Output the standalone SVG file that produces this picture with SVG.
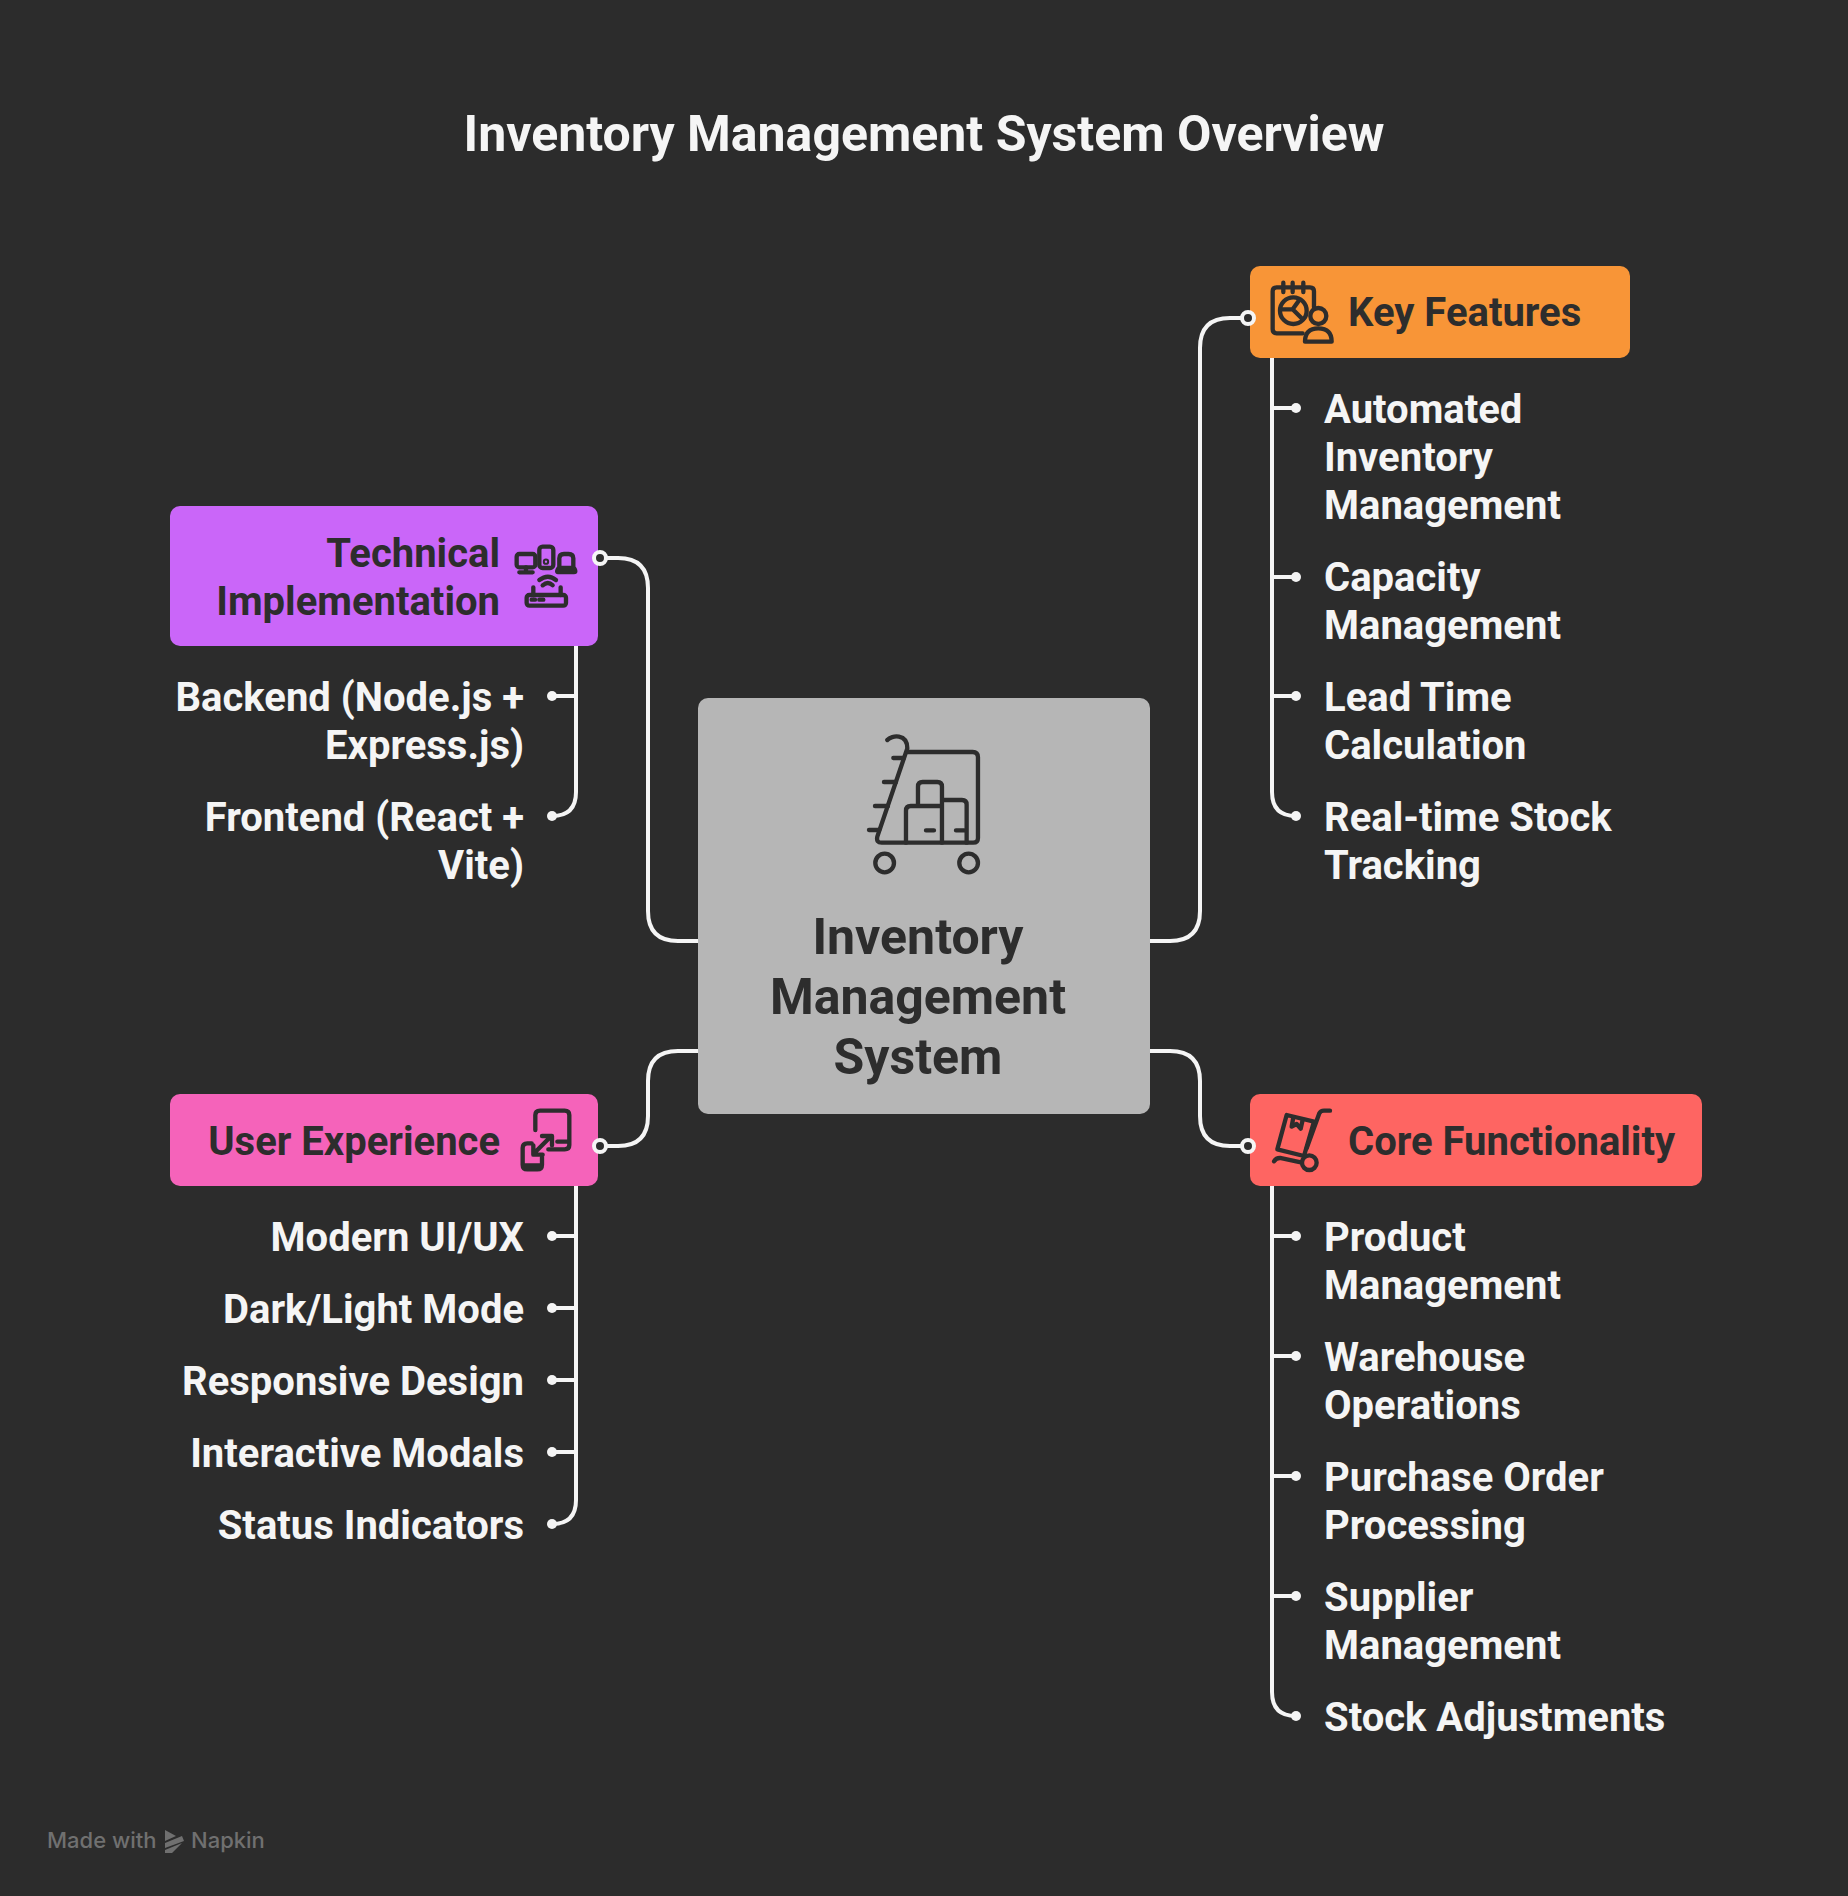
<svg xmlns="http://www.w3.org/2000/svg" width="1848" height="1896" viewBox="0 0 1848 1896">
<style>
text{font-family:Roboto,"Liberation Sans",sans-serif;font-weight:700}
.t{font-size:40px;fill:#f5f5f5}
.r{text-anchor:end}
.l{font-size:40px;fill:#2d2d2d}
.c{font-size:50px;fill:#2d2d2d;text-anchor:middle}
.w{fill:none;stroke:#f5f5f5;stroke-width:4;stroke-linecap:round}
.d{fill:#f5f5f5}
.ring{fill:#2d2d2d;stroke:#f5f5f5;stroke-width:4}
.ic{fill:none;stroke:#2d2d2d;stroke-width:13;stroke-linecap:round;stroke-linejoin:round}
.wm{font-family:Inter,sans-serif;font-weight:500;font-size:22px}
</style>
<rect id="background" width="1848" height="1896" fill="#2c2c2c"/>
<text id="title" x="924" y="150.5" font-size="50" fill="#f5f5f5" text-anchor="middle">Inventory Management System Overview</text>
<g id="connectors">
<path class="w" d="M698 941H678Q648 941 648 911V588Q648 558 618 558H600"/>
<path class="w" d="M1150 941H1170Q1200 941 1200 911V348Q1200 318 1230 318H1248"/>
<path class="w" d="M698 1051H678Q648 1051 648 1081V1116Q648 1146 618 1146H600"/>
<path class="w" d="M1150 1051H1170Q1200 1051 1200 1081V1116Q1200 1146 1230 1146H1248"/>
<path class="w" d="M1272 358V792Q1272 816 1296 816M1272 408H1296M1272 577H1296M1272 696H1296"/>
<path class="w" d="M1272 1186V1692Q1272 1716 1296 1716M1272 1236H1296M1272 1356H1296M1272 1476H1296M1272 1596H1296"/>
<path class="w" d="M576 646V792Q576 816 552 816M576 696H552"/>
<path class="w" d="M576 1186V1500Q576 1524 552 1524M576 1236H552M576 1308H552M576 1380H552M576 1452H552"/>
<g class="d">
<circle cx="1296" cy="408" r="5"/><circle cx="1296" cy="577" r="5"/><circle cx="1296" cy="696" r="5"/><circle cx="1296" cy="816" r="5"/>
<circle cx="1296" cy="1236" r="5"/><circle cx="1296" cy="1356" r="5"/><circle cx="1296" cy="1476" r="5"/><circle cx="1296" cy="1596" r="5"/><circle cx="1296" cy="1716" r="5"/>
<circle cx="552" cy="696" r="5"/><circle cx="552" cy="816" r="5"/>
<circle cx="552" cy="1236" r="5"/><circle cx="552" cy="1308" r="5"/><circle cx="552" cy="1380" r="5"/><circle cx="552" cy="1452" r="5"/><circle cx="552" cy="1524" r="5"/>
</g>
</g>
<g id="center-node">
<rect x="698" y="698" width="452" height="416" rx="10" fill="#b6b6b6"/>
<g class="ic" transform="translate(680 680) scale(.3333)">
<path d="M622 180C635 165 682 160 682 205L592 470Q588 488 605 488H880Q894 488 894 474V232Q894 216 878 216H682"/>
<path d="M640 234H672M612 306H648M585 378H624M567 450H598"/>
<path d="M678 488V392Q678 378 692 378H786V488M714 378V320Q714 306 728 306H772Q786 306 786 320V378M786 360H846Q860 360 860 374V488M738 451H762M828 451H852"/>
<circle cx="614" cy="549" r="28"/><circle cx="866" cy="549" r="28"/>
</g>
<text class="c" x="918" y="954">Inventory</text>
<text class="c" x="918" y="1014">Management</text>
<text class="c" x="918" y="1074">System</text>
</g>
<g id="key-features">
<rect x="1250" y="266" width="380" height="92" rx="10" fill="#f89537"/>
<g class="ic" transform="translate(1180 250) scale(.3333)">
<path d="M368 250H290Q278 250 278 238V124Q278 112 290 112H390Q402 112 402 124V172M310 98V126M338 98V126M370 98V126"/>
<circle cx="340" cy="182" r="40"/><path d="M302 178H338L358 150M338 178L368 208"/>
<circle cx="415" cy="198" r="24"/><path d="M375 275Q375 235 415 235Q455 235 455 275Z"/>
</g>
<text class="l" x="1348" y="326">Key Features</text>
<circle class="ring" cx="1248" cy="318" r="6"/>
</g>
<g id="key-features-items" transform="translate(0 .5)">
<text class="t" x="1324" y="422">Automated</text><text class="t" x="1324" y="470">Inventory</text><text class="t" x="1324" y="518">Management</text>
<text class="t" x="1324" y="590">Capacity</text><text class="t" x="1324" y="638">Management</text>
<text class="t" x="1324" y="710">Lead Time</text><text class="t" x="1324" y="758">Calculation</text>
<text class="t" x="1324" y="830">Real-time Stock</text><text class="t" x="1324" y="878">Tracking</text>
</g>
<g id="technical-implementation">
<rect x="170" y="506" width="428" height="140" rx="10" fill="#ca66f9"/>
<g class="ic" transform="translate(420 490) scale(.3333)">
<rect x="290" y="192" width="56" height="40" rx="8"/><path d="M318 232V245M298 247H338"/>
<rect x="358" y="170" width="42" height="64" rx="10"/><circle cx="378" cy="215" r="3"/>
<path d="M418 232V205Q418 192 432 192H446Q460 192 460 205V232M414 246H462Q470 246 462 234H416Q408 246 414 246"/>
<path d="M358 270Q384 250 408 270M368 286Q384 272 398 286"/>
<rect x="320" y="315" width="118" height="32" rx="8"/><path d="M340 315V292M422 315V292M335 329H345M358 329H370"/>
</g>
<text class="l r" x="500" y="566.5">Technical</text><text class="l r" x="500" y="614.5">Implementation</text>
<circle class="ring" cx="600" cy="558" r="6"/>
</g>
<g id="technical-items" transform="translate(0 .5)">
<text class="t r" x="524" y="710">Backend (Node.js +</text><text class="t r" x="524" y="758">Express.js)</text>
<text class="t r" x="524" y="830">Frontend (React +</text><text class="t r" x="524" y="878">Vite)</text>
</g>
<g id="user-experience">
<rect x="170" y="1094" width="428" height="92" rx="10" fill="#f563ba"/>
<g class="ic" transform="translate(480 1080) scale(.3333)">
<path d="M166 150V105Q166 92 180 92H254Q268 92 268 105V195Q268 208 254 208H205M232 185H268"/>
<path d="M155 190H142Q128 190 128 204V254Q128 268 142 268H172Q186 268 186 254V232M132 256H182"/>
<path d="M160 222L214 168M186 168H216V196M160 196V224H188"/>
</g>
<text class="l r" x="500" y="1154.5">User Experience</text>
<circle class="ring" cx="600" cy="1146" r="6"/>
</g>
<g id="user-experience-items" transform="translate(0 .5)">
<text class="t r" x="524" y="1250">Modern UI/UX</text>
<text class="t r" x="524" y="1322">Dark/Light Mode</text>
<text class="t r" x="524" y="1394">Responsive Design</text>
<text class="t r" x="524" y="1466">Interactive Modals</text>
<text class="t r" x="524" y="1538">Status Indicators</text>
</g>
<g id="core-functionality">
<rect x="1250" y="1094" width="452" height="92" rx="10" fill="#fe6562"/>
<g class="ic" transform="translate(1190 1080) scale(.3333)">
<path d="M290 105L372 125L342 228L262 208Z"/><path d="M310 112L305 140L320 132L332 146L338 120"/>
<path d="M350 205L388 100Q392 92 402 92H420M252 244Q258 234 270 234L336 248"/>
<circle cx="358" cy="248" r="22"/>
</g>
<text class="l" x="1348" y="1154.5">Core Functionality</text>
<circle class="ring" cx="1248" cy="1146" r="6"/>
</g>
<g id="core-functionality-items" transform="translate(0 .5)">
<text class="t" x="1324" y="1250">Product</text><text class="t" x="1324" y="1298">Management</text>
<text class="t" x="1324" y="1370">Warehouse</text><text class="t" x="1324" y="1418">Operations</text>
<text class="t" x="1324" y="1490">Purchase Order</text><text class="t" x="1324" y="1538">Processing</text>
<text class="t" x="1324" y="1610">Supplier</text><text class="t" x="1324" y="1658">Management</text>
<text class="t" x="1324" y="1730">Stock Adjustments</text>
</g>
<g id="watermark" fill="#707070">
<text class="wm" x="47" y="1848">Made with</text>
<path d="M165 1830L176 1836L165 1841ZM165 1843L182 1836L184 1841L165 1848ZM165 1850L182 1843L172 1853L165 1853Z"/>
<text class="wm" x="191" y="1848">Napkin</text>
</g>
</svg>
